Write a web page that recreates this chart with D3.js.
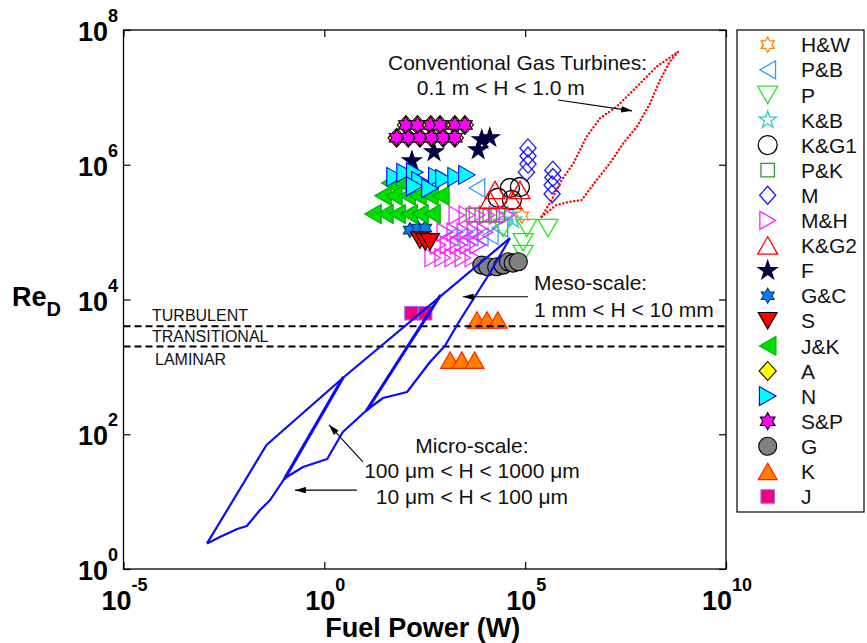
<!DOCTYPE html>
<html>
<head>
<meta charset="utf-8">
<script src="https://cdn.jsdelivr.net/npm/d3@7"></script>
<style>
  html, body { margin: 0; padding: 0; background: #fff; }
  svg { display: block; font-family: "Liberation Sans", Arial, Helvetica, sans-serif; }
</style>
</head>
<body>
<svg id="chart" width="867" height="643"></svg>
<script>
// Every point is [log10 fuel power (W), log10 Re_D]
const HW   = [[4.92, 5.24]];
const PB   = [[3.80, 5.655], [3.13, 4.93], [3.38, 4.93], [3.63, 4.93], [3.88, 4.93], [4.13, 4.95], [4.37, 5.06]];
const Pdat = [[4.45, 5.06], [5.04, 5.06], [5.57, 5.06], [4.95, 4.85], [4.95, 4.675]];
const KB   = [[4.57, 5.25], [4.70, 5.18]];
const KG1  = [[4.32, 5.51], [4.62, 5.655], [4.87, 5.67], [4.67, 5.477]];
const PK   = [[3.70, 5.254], [3.92, 5.254], [4.12, 5.254], [4.32, 5.254]];
const Mdat = [[5.07, 6.25], [5.07, 6.13], [5.07, 6.01], [5.03, 5.89], [5.69, 5.92], [5.69, 5.81], [5.67, 5.70], [5.67, 5.566]];
const MH   = [[3.30, 5.254], [3.55, 5.254], [3.80, 5.254], [4.05, 5.254], [4.30, 5.254], [4.55, 5.254],
              [3.00, 5.00], [3.25, 5.00], [3.50, 5.00], [3.75, 5.00], [4.00, 5.00],
              [2.83, 4.81], [3.08, 4.81], [3.33, 4.81], [3.57, 4.81], [3.82, 4.81],
              [2.70, 4.62], [2.95, 4.62], [3.20, 4.62], [3.45, 4.62], [3.70, 4.62]];
const KG2  = [[4.25, 5.625], [4.87, 5.625], [4.12, 5.477], [4.67, 5.477]];
const Fdat = [[2.18, 6.056], [2.73, 6.19], [3.83, 6.22], [3.92, 6.37], [4.12, 6.40]];
const GC   = [[2.13, 5.03], [2.33, 5.06], [2.51, 5.06]];
const Sdat = [[2.38, 4.88], [2.51, 4.855], [2.63, 4.855]];
const JK   = [[1.63, 5.73], [1.93, 5.73],
              [1.46, 5.54], [1.73, 5.54], [2.06, 5.54], [2.33, 5.54], [2.63, 5.54], [2.90, 5.54],
              [1.21, 5.27], [1.51, 5.27], [1.81, 5.27], [2.11, 5.27], [2.38, 5.27], [2.68, 5.27]];
const Adat = [[2.03, 6.59], [2.32, 6.59], [2.65, 6.59], [2.88, 6.59], [3.25, 6.59], [3.50, 6.59],
              [1.80, 6.40], [2.09, 6.40], [2.38, 6.40], [2.67, 6.40], [2.96, 6.40], [3.25, 6.40]];
const Ndat = [[1.76, 5.82], [2.01, 5.88], [2.25, 5.89], [2.38, 5.76], [2.80, 5.82], [2.98, 5.79],
              [3.28, 5.82], [3.55, 5.85], [2.25, 5.68], [2.63, 5.65]];
const SP   = [[2.03, 6.59], [2.32, 6.59], [2.65, 6.59], [2.88, 6.59], [3.25, 6.59], [3.50, 6.59],
              [1.80, 6.40], [2.09, 6.40], [2.38, 6.40], [2.67, 6.40], [2.96, 6.40], [3.25, 6.40]];
const Gdat = [[3.92, 4.51], [4.07, 4.487], [4.29, 4.487], [4.45, 4.51], [4.58, 4.56], [4.70, 4.54], [4.83, 4.56]];
const Kdat = [[3.80, 3.696], [4.05, 3.696], [4.32, 3.696], [3.13, 3.10], [3.42, 3.10], [3.74, 3.10]];
const Jdat = [[2.17, 3.795], [2.51, 3.795]];

// Operating envelopes (same [log10 W, log10 Re] convention)
const microUpper = [[-2.92, 0.38], [-1.44, 1.84], [0.46, 2.835], [4.62, 4.91]];
const microLower = [[-2.92, 0.38], [-2.60, 0.475], [-2.17, 0.594], [-1.93, 0.638], [-1.60, 0.876],
                    [-1.35, 1.024], [-0.98, 1.351], [-0.53, 1.514], [0.07, 1.633], [0.46, 2.033],
                    [1.06, 2.36], [1.46, 2.538], [2.06, 2.627], [2.63, 3.072], [3.00, 3.31],
                    [3.38, 3.696], [4.12, 4.393], [4.62, 4.91]];
const h100um = [[-0.98, 1.351], [0.46, 2.835]];
const h1mm   = [[1.06, 2.36], [2.88, 4.052]];
const turbineUpper = [[5.41, 5.229], [5.66, 5.477], [5.91, 5.774], [6.20, 6.022], [6.53, 6.416],
                      [6.86, 6.689], [7.28, 6.862], [7.78, 7.158], [8.27, 7.455], [8.81, 7.678]];
const turbineLower = [[5.41, 5.229], [5.78, 5.403], [6.12, 5.452], [6.41, 5.477], [6.78, 5.774],
                      [7.11, 6.022], [7.44, 6.318], [7.78, 6.565], [8.11, 6.912], [8.36, 7.258],
                      [8.60, 7.530], [8.81, 7.678]];

// Flow-regime thresholds (Re_D)
const regimeLimits = [4000, 2000];
const regimeNames = ["TURBULENT", "TRANSITIONAL", "LAMINAR"];

// Axis tick exponents
const xTickExp = [-5, 0, 5, 10];
const yTickExp = [0, 2, 4, 6, 8];

// Series in legend order: name, values, marker shape, fill, edge colour, size in px
const series = [
  { name: "H&W",  data: HW,   shape: "h", fill: "none",    stroke: "#ff8000", size: 15 },
  { name: "P&B",  data: PB,   shape: "<", fill: "none",    stroke: "#3399ff", size: 18 },
  { name: "P",    data: Pdat, shape: "v", fill: "none",    stroke: "#22e622", size: 20 },
  { name: "K&B",  data: KB,   shape: "p", fill: "none",    stroke: "#2ccccc", size: 18 },
  { name: "K&G1", data: KG1,  shape: "o", fill: "none",    stroke: "#000000", size: 19 },
  { name: "P&K",  data: PK,   shape: "s", fill: "none",    stroke: "#339933", size: 15 },
  { name: "M",    data: Mdat, shape: "d", fill: "none",    stroke: "#1a1aff", size: 18 },
  { name: "M&H",  data: MH,   shape: ">", fill: "none",    stroke: "#ff22ff", size: 18 },
  { name: "K&G2", data: KG2,  shape: "^", fill: "none",    stroke: "#ff0000", size: 20 },
  { name: "F",    data: Fdat, shape: "p", fill: "#000040", stroke: "#000040", size: 20 },
  { name: "G&C",  data: GC,   shape: "h", fill: "#0a7de8", stroke: "#003a80", size: 15 },
  { name: "S",    data: Sdat, shape: "v", fill: "#ff0000", stroke: "#000000", size: 19 },
  { name: "J&K",  data: JK,   shape: "<", fill: "#00dd00", stroke: "#00b000", size: 19 },
  { name: "A",    data: Adat, shape: "d", fill: "#ffff00", stroke: "#000000", size: 19 },
  { name: "N",    data: Ndat, shape: ">", fill: "#00ffff", stroke: "#0000ff", size: 19 },
  { name: "S&P",  data: SP,   shape: "h", fill: "#ff00ff", stroke: "#000000", size: 17 },
  { name: "G",    data: Gdat, shape: "o", fill: "#808080", stroke: "#000000", size: 18 },
  { name: "K",    data: Kdat, shape: "^", fill: "#ff8000", stroke: "#ff2200", size: 19 },
  { name: "J",    data: Jdat, shape: "s", fill: "#f5007a", stroke: "#9966ff", size: 15 }
];

const svg = d3.select("#chart");
const frameL = 123.5, frameR = 726, frameT = 30, frameB = 569;
const x = d3.scaleLog().domain([1e-5, 1e10]).range([frameL, frameR]);
const y = d3.scaleLog().domain([1, 1e8]).range([frameB, frameT]);
const px = d => x(Math.pow(10, d[0]));
const py = d => y(Math.pow(10, d[1]));

// Marker outline centred on 0,0
function shapePath(kind, s) {
  const r = s / 2, h = s * 0.87;
  const star = (n, inner) => {
    const pts = [];
    for (let i = 0; i < 2 * n; i++) {
      const a = -Math.PI / 2 + i * Math.PI / n;
      const rr = i % 2 ? r * inner : r;
      pts.push([rr * Math.cos(a), rr * Math.sin(a)]);
    }
    return "M" + pts.map(p => p[0].toFixed(2) + "," + p[1].toFixed(2)).join("L") + "Z";
  };
  switch (kind) {
    case "o": return `M${r},0A${r},${r} 0 1,1 ${-r},0A${r},${r} 0 1,1 ${r},0Z`;
    case "s": { const q = r * 0.9; return `M${-q},${-q}H${q}V${q}H${-q}Z`; }
    case "d": return `M0,${-r}L${r * 0.9},0L0,${r}L${-r * 0.9},0Z`;
    case "^": return `M0,${-h / 2}L${r},${h / 2}L${-r},${h / 2}Z`;
    case "v": return `M0,${h / 2}L${r},${-h / 2}L${-r},${-h / 2}Z`;
    case ">": return `M${h / 2},0L${-h / 2},${-r}L${-h / 2},${r}Z`;
    case "<": return `M${-h / 2},0L${h / 2},${-r}L${h / 2},${r}Z`;
    case "p": return star(5, 0.382);
    case "h": return star(6, 0.577);
  }
}

const defs = svg.append("defs");
defs.append("marker")
  .attr("id", "head").attr("viewBox", "0 0 10 6").attr("refX", 10).attr("refY", 3)
  .attr("markerWidth", 11).attr("markerHeight", 6.5).attr("markerUnits", "userSpaceOnUse")
  .attr("orient", "auto")
  .append("path").attr("d", "M0,0L10,3L0,6Z").attr("fill", "#000");

// Plot frame
svg.append("rect")
  .attr("x", frameL).attr("y", frameT).attr("width", frameR - frameL).attr("height", frameB - frameT)
  .attr("fill", "#fff").attr("stroke", "#000").attr("stroke-width", 1.3);

// Inward ticks on all four sides
const xTicks = xTickExp.map(e => Math.pow(10, e));
const yTicks = yTickExp.map(e => Math.pow(10, e));
const tickStyle = g => { g.select(".domain").remove(); g.selectAll("text").remove();
  g.selectAll("line").attr("stroke", "#000").attr("stroke-width", 1.2); };
svg.append("g").attr("transform", `translate(0,${frameB})`)
  .call(d3.axisBottom(x).tickValues(xTicks).tickSize(-7).tickFormat("")).call(tickStyle);
svg.append("g").attr("transform", `translate(0,${frameT})`)
  .call(d3.axisTop(x).tickValues(xTicks).tickSize(-7).tickFormat("")).call(tickStyle);
svg.append("g").attr("transform", `translate(${frameL},0)`)
  .call(d3.axisLeft(y).tickValues(yTicks).tickSize(-7).tickFormat("")).call(tickStyle);
svg.append("g").attr("transform", `translate(${frameR},0)`)
  .call(d3.axisRight(y).tickValues(yTicks).tickSize(-7).tickFormat("")).call(tickStyle);

// Tick labels as powers of ten
function powerLabel(sel, exp) {
  sel.attr("font-weight", "bold").attr("font-size", 27).attr("fill", "#000").text("10")
    .append("tspan").attr("dy", -19).attr("font-size", 18).text(String(exp));
}
svg.append("g").selectAll("text").data(xTickExp).join("text")
  .attr("x", e => x(Math.pow(10, e)) + 1).attr("y", 610).attr("text-anchor", "middle")
  .each(function (e) { powerLabel(d3.select(this), e); });
svg.append("g").selectAll("text").data(yTickExp).join("text")
  .attr("x", 118).attr("y", e => y(Math.pow(10, e)) + 11).attr("text-anchor", "end")
  .each(function (e) { powerLabel(d3.select(this), e); });

// Axis titles
svg.append("text").attr("x", (frameL + frameR) / 2 - 2).attr("y", 637).attr("text-anchor", "middle")
  .attr("font-weight", "bold").attr("font-size", 27).text("Fuel Power (W)");
const yt = svg.append("text").attr("x", 12).attr("y", 306).attr("font-weight", "bold").attr("font-size", 27).text("Re");
yt.append("tspan").attr("dy", 10).attr("font-size", 20).text("D");

// Data markers
const plot = svg.append("g");
series.forEach(s => {
  plot.append("g").selectAll("path").data(s.data).join("path")
    .attr("d", shapePath(s.shape, s.size))
    .attr("transform", d => `translate(${px(d)},${py(d)})`)
    .attr("fill", s.fill).attr("stroke", s.stroke)
    .attr("stroke-width", s.fill === "none" ? 1.3 : 1.1)
    .attr("stroke-linejoin", "miter");
});

// Regime boundaries
svg.append("g").selectAll("line").data(regimeLimits).join("line")
  .attr("x1", frameL).attr("x2", frameR).attr("y1", d => y(d)).attr("y2", d => y(d))
  .attr("stroke", "#000").attr("stroke-width", 2).attr("stroke-dasharray", "7,4");
const regimeY = [y(regimeLimits[0]) - 5, (y(regimeLimits[0]) + y(regimeLimits[1])) / 2 + 6, y(regimeLimits[1]) + 18];
svg.append("g").selectAll("text").data(regimeNames).join("text")
  .attr("x", (d, i) => 152 + (i === 2 ? 3 : 0)).attr("y", (d, i) => regimeY[i])
  .attr("font-size", 16).attr("fill", "#111").text(d => d);

// Micro / meso envelopes
const line = d3.line().x(px).y(py);
[microUpper, microLower].forEach(d => svg.append("path").attr("d", line(d))
  .attr("fill", "none").attr("stroke", "#0a0aff").attr("stroke-width", 2.2).attr("stroke-linejoin", "round"));
[h100um, h1mm].forEach(d => svg.append("path").attr("d", line(d))
  .attr("fill", "none").attr("stroke", "#0a0aff").attr("stroke-width", 3.2).attr("stroke-linecap", "round"));

// Gas-turbine envelope (dotted)
[turbineUpper, turbineLower].forEach(d => svg.append("path").attr("d", line(d))
  .attr("fill", "none").attr("stroke", "#ff0000").attr("stroke-width", 2.4)
  .attr("stroke-dasharray", "0.1,3.6").attr("stroke-linecap", "round"));

// Annotations
const notes = [
  { text: "Conventional Gas Turbines:", at: [1.585, 7.40], anchor: "start" },
  { text: "0.1 m < H < 1.0 m",          at: [2.30, 7.035], anchor: "start" },
  { text: "Meso-scale:",                at: [5.22, 4.14],  anchor: "start" },
  { text: "1 mm < H < 10 mm",           at: [5.22, 3.74],  anchor: "start" },
  { text: "Micro-scale:",               at: [3.675, 1.72], anchor: "middle" },
  { text: "100 \u03bcm < H < 1000 \u03bcm", at: [3.675, 1.35], anchor: "middle" },
  { text: "10 \u03bcm < H < 100 \u03bcm",   at: [3.675, 0.965], anchor: "middle" }
];
svg.append("g").selectAll("text").data(notes).join("text")
  .attr("x", d => px(d.at)).attr("y", d => py(d.at)).attr("text-anchor", d => d.anchor)
  .attr("font-size", 21).attr("fill", "#111").text(d => d.text);

const arrows = [
  [[5.82, 6.96], [7.66, 6.80]],
  [[5.07, 4.04], [3.45, 4.04]],
  [[0.96, 1.59], [0.115, 2.14]],
  [[0.81, 1.17], [-0.73, 1.17]]
];
svg.append("g").selectAll("line").data(arrows).join("line")
  .attr("x1", d => px(d[0])).attr("y1", d => py(d[0]))
  .attr("x2", d => px(d[1])).attr("y2", d => py(d[1]))
  .attr("stroke", "#000").attr("stroke-width", 1.1).attr("marker-end", "url(#head)");

// Legend
const lg = svg.append("g");
lg.append("rect").attr("x", 737).attr("y", 30).attr("width", 127).attr("height", 482)
  .attr("fill", "#fff").attr("stroke", "#000").attr("stroke-width", 1.2);
const rowY = i => 44.7 + i * 25.1;
series.forEach((s, i) => {
  lg.append("path").attr("d", shapePath(s.shape, s.size))
    .attr("transform", `translate(767.7,${rowY(i)})`)
    .attr("fill", s.fill).attr("stroke", s.stroke)
    .attr("stroke-width", s.fill === "none" ? 1.3 : 1.1);
  lg.append("text").attr("x", 801).attr("y", rowY(i) + 7.6)
    .attr("font-size", 21).attr("fill", "#111").text(s.name);
});
</script>
</body>
</html>
